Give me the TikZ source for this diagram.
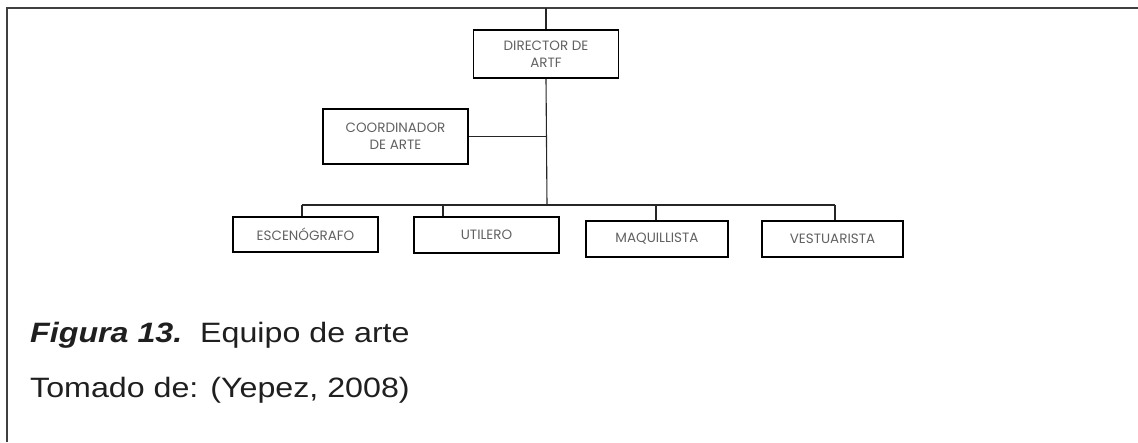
\documentclass[tikz,border=0pt]{standalone}
\usepackage{fontspec}
\setmainfont{Liberation Sans}
\newfontfamily\boxfont{Poppins}
\usetikzlibrary{positioning}

\begin{document}
\begin{tikzpicture}[x=1pt,y=-1pt,
            cargo/.style={draw,line width=1.6pt,rectangle,inner sep=0pt,
              text=black!62,font=\boxfont\fontsize{13.5}{17}\selectfont},
            every node/.style={align=center},
            link/.style={line width=1.1pt,black!85},
            caption/.style={anchor=base west,inner sep=0pt,text=black!88,font=\fontsize{28}{32}\selectfont}
  ]
  \useasboundingbox (0,0) rectangle (1138,442);

  % marco
  \draw[line width=1.8pt,black!75] (7,442) -- (7,8) -- (1138,8);

  \node[cargo, minimum width=145pt, minimum height=48pt] (director) at (546,54) {DIRECTOR DE\\ARTF};
  \node[cargo, minimum width=145pt, minimum height=55pt] (coord) at (395.5,136.5) {COORDINADOR\\DE ARTE};

  \node[cargo, minimum width=145pt, minimum height=35pt] (esc) at (305.5,234.5) {ESCEN\'OGRAFO};
  \node[cargo, minimum width=145pt, minimum height=36pt] (util) at (486.5,235) {UTILERO};
  \node[cargo, minimum width=142pt, minimum height=36pt] (maq) at (657,239) {MAQUILLISTA};
  \node[cargo, minimum width=141pt, minimum height=36pt] (vest) at (832.5,239) {VESTUARISTA};

  \coordinate (top) at (546,8);
  \coordinate (hub) at (547,205);
  \coordinate (b1) at (302,205);
  \coordinate (b2) at (443,205);
  \coordinate (b3) at (656,205);
  \coordinate (b4) at (835,205);

  \draw[link] (top) -- (director.north);
  \draw[link] (director.south) -- (hub);
  \draw[link] (coord.east) -- (coord.east -| hub);
  \draw[link] (b1) -- (b4);
  \draw[link] (b1) -- (esc.north -| b1);
  \draw[link] (b2) -- (util.north -| b2);
  \draw[link] (b3) -- (maq.north -| b3);
  \draw[link] (b4) -- (vest.north -| b4);

  \node[caption] (fig) at (30,342) {\scalebox{1.15}[1]{\textbf{\textit{Figura 13.}}\ \ Equipo de arte}};
  \node[caption] (src) at (30,397) {\scalebox{1.15}[1]{Tomado de: (Yepez, 2008)}};

\end{tikzpicture}
\end{document}
